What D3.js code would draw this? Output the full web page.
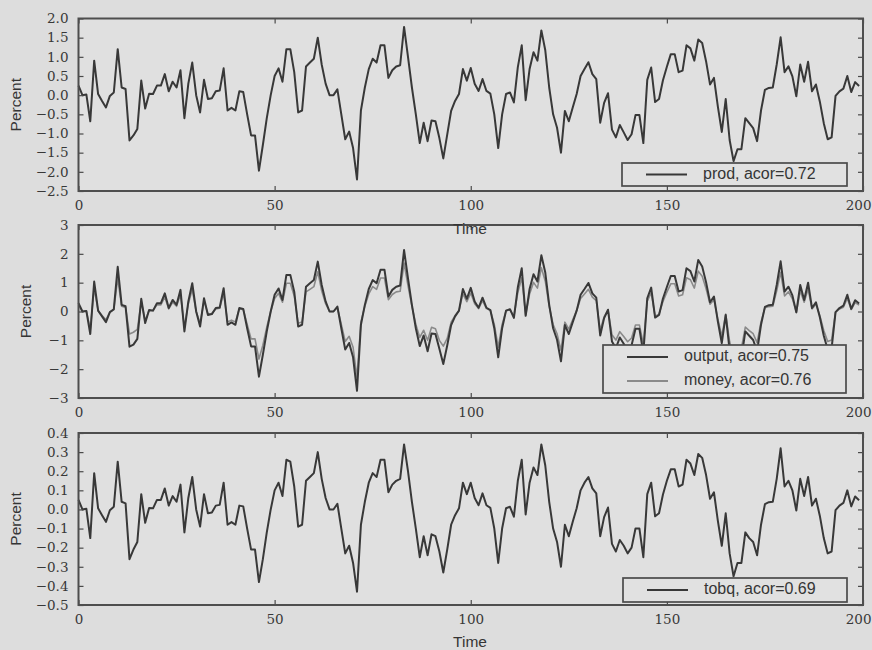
<!DOCTYPE html>
<html>
<head>
<meta charset="utf-8">
<script src="https://cdn.jsdelivr.net/npm/d3@7"></script>
<style>
  html, body { margin: 0; padding: 0; background: #dddddd; }
  svg { display: block; }
  .tick text { font-family: "DejaVu Serif", "Liberation Serif", serif; font-size: 13.5px; fill: #383838; }
  .tick line { stroke: #4a4a4a; stroke-width: 1.2; }
  .lab { font-family: "Liberation Sans", Arial, sans-serif; font-size: 15.5px; fill: #353535; }
  .leg { font-family: "Liberation Sans", Arial, sans-serif; font-size: 16px; fill: #353535; }
</style>
</head>
<body>
<svg id="chart" width="872" height="650"></svg>
<script>
// Simulated series, one value per period (t = 0 .. 199), in percent deviations
const prod = [0.25,0,0.02,-0.68,0.9,0.03,-0.15,-0.32,-0.02,0.07,
  1.2,0.2,0.16,-1.18,-1.05,-0.88,0.38,-0.35,0.04,0.03,
  0.25,0.25,0.55,0.1,0.35,0.2,0.65,-0.6,0.3,0.85,
  0,-0.45,0.4,-0.1,-0.08,0.1,0.12,0.7,-0.4,-0.33,
  -0.4,0.1,0.08,-0.5,-1.05,-1.05,-1.97,-1.3,-0.6,0,
  0.5,0.7,0.35,1.2,1.2,0.6,-0.45,-0.4,0.75,0.85,
  0.95,1.5,0.8,0.3,0,0,0.15,-0.5,-1.15,-0.95,
  -1.38,-2.2,-0.4,0.2,0.68,0.95,0.85,1.3,1.3,0.45,
  0.65,0.75,0.78,1.78,1.0,0.2,-0.5,-1.25,-0.72,-1.2,
  -0.66,-0.68,-1.12,-1.65,-1.03,-0.41,-0.15,0.03,0.68,0.38,
  0.71,0.3,0.11,0.42,0.11,0.04,-0.5,-1.38,-0.5,0.03,
  0.07,-0.19,0.73,1.3,-0.13,0.68,1.12,0.9,1.69,1.17,
  0.2,-0.5,-0.85,-1.5,-0.41,-0.68,-0.32,0.03,0.5,0.68,
  0.86,0.55,0.42,-0.72,-0.2,0.05,-0.9,-1.1,-0.78,-0.97,
  -1.17,-1.02,-0.52,-0.52,-1.25,0.4,0.72,-0.18,-0.1,0.39,
  0.74,1.07,1.07,0.6,0.64,1.3,1.22,0.9,1.45,1.36,
  0.88,0.28,0.45,-0.3,-0.96,-0.1,-1.17,-1.72,-1.41,-1.41,
  -0.6,-0.73,-0.86,-1.2,-0.4,0.14,0.19,0.2,0.8,1.51,
  0.6,0.75,0.49,-0.03,0.8,0.35,0.87,0.1,0.28,-0.17,
  -0.73,-1.15,-1.1,-0.02,0.1,0.17,0.5,0.08,0.34,0.24];

const output = [0.29,0,0.02,-0.78,1.04,0.03,-0.17,-0.37,-0.02,0.08,
  1.55,0.23,0.18,-1.22,-1.15,-0.95,0.44,-0.4,0.05,0.03,
  0.29,0.29,0.63,0.12,0.4,0.23,0.75,-0.69,0.35,0.98,
  0,-0.52,0.46,-0.12,-0.09,0.12,0.14,0.81,-0.46,-0.38,
  -0.46,0.12,0.09,-0.58,-1.21,-1.21,-2.26,-1.5,-0.69,0,
  0.58,0.8,0.4,1.27,1.27,0.69,-0.52,-0.46,0.86,0.98,
  1.09,1.73,0.92,0.35,0,0,0.17,-0.58,-1.32,-1.09,
  -1.59,-2.75,-0.46,0.23,0.78,1.09,0.98,1.45,1.45,0.52,
  0.75,0.86,0.9,2.13,1.15,0.23,-0.58,-1.2,-0.83,-1.38,
  -0.76,-0.78,-1.29,-1.82,-1.18,-0.47,-0.17,0.03,0.78,0.44,
  0.82,0.35,0.13,0.48,0.13,0.05,-0.58,-1.59,-0.58,0.03,
  0.08,-0.22,0.84,1.5,-0.15,0.78,1.29,1.04,1.95,1.35,
  0.23,-0.58,-0.98,-1.73,-0.47,-0.78,-0.37,0.03,0.58,0.78,
  0.99,0.63,0.48,-0.83,-0.23,0.06,-1.04,-1.27,-0.9,-1.12,
  -1.35,-1.17,-0.6,-0.6,-1.44,0.46,0.83,-0.21,-0.12,0.45,
  0.85,1.23,1.23,0.69,0.74,1.5,1.4,1.04,1.79,1.56,
  1.01,0.32,0.52,-0.35,-1.1,-0.12,-1.35,-1.98,-1.62,-1.62,
  -0.69,-0.84,-0.99,-1.38,-0.46,0.16,0.22,0.23,0.92,1.74,
  0.69,0.86,0.56,-0.03,0.92,0.4,1.0,0.12,0.32,-0.2,
  -0.84,-1.32,-1.27,-0.02,0.12,0.2,0.58,0.09,0.39,0.28];

const money = [0.22,0,0.02,-0.61,0.81,0.03,-0.14,-0.29,-0.02,0.06,
  1.15,0.18,0.14,-0.78,-0.72,-0.62,0.34,-0.32,0.04,0.03,
  0.23,0.23,0.5,0.09,0.32,0.18,0.59,-0.54,0.27,0.77,
  0,-0.41,0.36,-0.09,-0.07,0.09,0.11,0.63,-0.36,-0.3,
  -0.36,0.09,0.07,-0.45,-0.95,-0.95,-1.65,-1.17,-0.54,0,
  0.45,0.63,0.32,0.98,0.98,0.54,-0.41,-0.36,0.68,0.77,
  0.86,1.38,0.72,0.27,0,0,0.14,-0.45,-1.04,-0.86,
  -1.24,-2.3,-0.36,0.18,0.61,0.86,0.77,1.16,1.16,0.41,
  0.59,0.68,0.7,1.68,0.9,0.18,-0.45,-0.9,-0.65,-1.0,
  -0.55,-0.6,-1.0,-1.2,-0.93,-0.37,-0.14,0.03,0.61,0.34,
  0.64,0.27,0.1,0.38,0.1,0.04,-0.45,-1.24,-0.45,0.03,
  0.06,-0.17,0.66,1.17,-0.12,0.61,1.01,0.81,1.52,1.05,
  0.18,-0.45,-0.77,-1.35,-0.37,-0.61,-0.29,0.03,0.45,0.61,
  0.77,0.5,0.38,-0.65,-0.18,0.05,-0.81,-0.99,-0.7,-0.87,
  -1.05,-0.92,-0.47,-0.47,-1.13,0.36,0.65,-0.16,-0.09,0.35,
  0.67,0.96,0.96,0.54,0.58,1.17,1.1,0.81,1.4,1.22,
  0.79,0.25,0.41,-0.27,-0.86,-0.09,-1.05,-1.55,-1.27,-1.27,
  -0.54,-0.66,-0.77,-1.08,-0.36,0.13,0.17,0.18,0.72,1.36,
  0.54,0.68,0.44,-0.03,0.72,0.32,0.78,0.09,0.25,-0.15,
  -0.66,-1.04,-0.99,-0.02,0.09,0.15,0.45,0.07,0.31,0.22];

const tobq = [0.05,0,0.004,-0.15,0.19,0.006,-0.03,-0.065,-0.004,0.014,
  0.25,0.04,0.032,-0.26,-0.21,-0.17,0.08,-0.07,0.008,0.006,
  0.05,0.05,0.11,0.02,0.07,0.04,0.13,-0.12,0.06,0.17,
  0,-0.09,0.08,-0.02,-0.016,0.02,0.024,0.14,-0.08,-0.066,
  -0.08,0.02,0.016,-0.1,-0.21,-0.21,-0.38,-0.26,-0.12,0,
  0.1,0.14,0.07,0.26,0.25,0.12,-0.09,-0.08,0.15,0.17,
  0.19,0.3,0.16,0.06,0,0,0.03,-0.1,-0.23,-0.19,
  -0.28,-0.43,-0.08,0.04,0.14,0.19,0.17,0.26,0.26,0.09,
  0.13,0.15,0.16,0.34,0.2,0.04,-0.1,-0.25,-0.14,-0.24,
  -0.13,-0.14,-0.22,-0.33,-0.21,-0.08,-0.03,0.006,0.14,0.08,
  0.14,0.06,0.022,0.084,0.022,0.008,-0.1,-0.28,-0.1,0.006,
  0.014,-0.038,0.15,0.26,-0.026,0.14,0.22,0.18,0.34,0.23,
  0.04,-0.1,-0.17,-0.3,-0.08,-0.14,-0.064,0.006,0.1,0.14,
  0.17,0.11,0.084,-0.14,-0.04,0.01,-0.18,-0.22,-0.16,-0.19,
  -0.23,-0.2,-0.1,-0.1,-0.25,0.08,0.14,-0.036,-0.02,0.078,
  0.15,0.21,0.21,0.12,0.13,0.26,0.24,0.18,0.29,0.27,
  0.18,0.056,0.09,-0.06,-0.19,-0.02,-0.23,-0.35,-0.28,-0.28,
  -0.12,-0.15,-0.17,-0.24,-0.08,0.028,0.038,0.04,0.16,0.32,
  0.12,0.15,0.1,-0.006,0.16,0.07,0.17,0.02,0.056,-0.034,
  -0.15,-0.23,-0.22,-0.004,0.02,0.034,0.1,0.016,0.068,0.048];

const xTicks = [0, 50, 100, 150, 200];
const yTicksTop = [-2.5, -2.0, -1.5, -1.0, -0.5, 0.0, 0.5, 1.0, 1.5, 2.0];
const yTicksMid = [-3, -2, -1, 0, 1, 2, 3];
const yTicksBot = [-0.5, -0.4, -0.3, -0.2, -0.1, 0.0, 0.1, 0.2, 0.3, 0.4];

const legendTop = ["prod, acor=0.72"];
const legendMid = ["output, acor=0.75", "money, acor=0.76"];
const legendBot = ["tobq, acor=0.69"];

const svg = d3.select("#chart");
const W = 872, H = 650;
svg.append("rect").attr("width", W).attr("height", H).attr("fill", "#dddddd");

const x = d3.scaleLinear().domain([0, 200]).range([78.5, 863]);
const dark = "#383838", light = "#8a8a8a";

const panels = [
  { top: 18.5, bottom: 191, domain: [-2.5, 2.0], ticks: yTicksTop, fmt: d3.format(".1f"),
    series: [{ data: prod, color: dark, w: 2 }],
    legend: { x0: 622, x1: 847, y0: 163, y1: 186, items: legendTop, colors: [dark] },
    ylabX: 17, timeY: 230 },
  { top: 225, bottom: 398, domain: [-3, 3], ticks: yTicksMid, fmt: d3.format("d"),
    series: [{ data: money, color: light, w: 1.6 }, { data: output, color: dark, w: 2 }],
    legend: { x0: 603, x1: 846, y0: 345, y1: 393, items: legendMid, colors: [dark, light] },
    ylabX: 27, timeY: null },
  { top: 433, bottom: 605, domain: [-0.5, 0.4], ticks: yTicksBot, fmt: d3.format(".1f"),
    series: [{ data: tobq, color: dark, w: 2 }],
    legend: { x0: 623, x1: 847, y0: 578, y1: 602, items: legendBot, colors: [dark] },
    ylabX: 17, timeY: 643 }
];

panels.forEach(p => {
  const y = d3.scaleLinear().domain(p.domain).range([p.bottom, p.top]);
  const g = svg.append("g");

  g.append("rect")
    .attr("x", x.range()[0]).attr("y", p.top)
    .attr("width", x.range()[1] - x.range()[0]).attr("height", p.bottom - p.top)
    .attr("fill", "#e0e0e0");

  const line = d3.line().x((d, i) => x(i)).y(d => y(d));
  p.series.forEach(s => {
    g.append("path").datum(s.data)
      .attr("d", line)
      .attr("fill", "none")
      .attr("stroke", s.color)
      .attr("stroke-width", s.w)
      .attr("stroke-linejoin", "round");
  });

  // inward ticks on all four sides
  g.append("g").attr("transform", `translate(${x.range()[0]},0)`)
    .call(d3.axisLeft(y).tickValues(p.ticks).tickFormat(p.fmt).tickSize(-5).tickPadding(10))
    .call(a => a.select(".domain").remove())
    .call(a => a.selectAll("text").attr("text-anchor", "end"));
  g.append("g").attr("transform", `translate(${x.range()[1]},0)`)
    .call(d3.axisRight(y).tickValues(p.ticks).tickFormat("").tickSize(-5))
    .call(a => a.select(".domain").remove());
  g.append("g").attr("transform", `translate(0,${p.bottom})`)
    .call(d3.axisBottom(x).tickValues(xTicks).tickFormat(d3.format("d")).tickSize(-5).tickPadding(9))
    .call(a => a.select(".domain").remove())
    // keep the last label inside the page edge
    .call(a => a.selectAll(".tick text").filter(d => d === 200)
      .attr("text-anchor", "end").attr("x", 8));
  g.append("g").attr("transform", `translate(0,${p.top})`)
    .call(d3.axisTop(x).tickValues(xTicks).tickFormat("").tickSize(-5))
    .call(a => a.select(".domain").remove());

  // legend box
  const L = p.legend;
  g.append("rect")
    .attr("x", L.x0).attr("y", L.y0)
    .attr("width", L.x1 - L.x0).attr("height", L.y1 - L.y0)
    .attr("fill", "#e1e1e1").attr("stroke", "#4a4a4a").attr("stroke-width", 1.7);
  const rowH = (L.y1 - L.y0) / L.items.length;
  L.items.forEach((t, k) => {
    const cy = L.y0 + rowH * (k + 0.5);
    g.append("line")
      .attr("x1", L.x0 + 24).attr("x2", L.x0 + 65)
      .attr("y1", cy).attr("y2", cy)
      .attr("stroke", L.colors[k]).attr("stroke-width", 2);
    g.append("text").attr("class", "leg")
      .attr("x", L.x0 + 81).attr("y", cy)
      .attr("dominant-baseline", "middle")
      .text(t);
  });

  // axes frame
  g.append("rect")
    .attr("x", x.range()[0]).attr("y", p.top)
    .attr("width", x.range()[1] - x.range()[0]).attr("height", p.bottom - p.top)
    .attr("fill", "none").attr("stroke", "#4e4e4e").attr("stroke-width", 2);

  // y axis label
  svg.append("text").attr("class", "lab")
    .attr("transform", `translate(${p.ylabX},${(p.top + p.bottom) / 2}) rotate(-90)`)
    .attr("text-anchor", "middle").attr("dominant-baseline", "middle")
    .text("Percent");
});

// x axis labels, drawn last so they sit on top of neighbouring panels
panels.filter(p => p.timeY !== null).forEach(p => {
  svg.append("text").attr("class", "lab")
    .attr("x", 470).attr("y", p.timeY)
    .attr("text-anchor", "middle").attr("dominant-baseline", "middle")
    .text("Time");
});
</script>
</body>
</html>
